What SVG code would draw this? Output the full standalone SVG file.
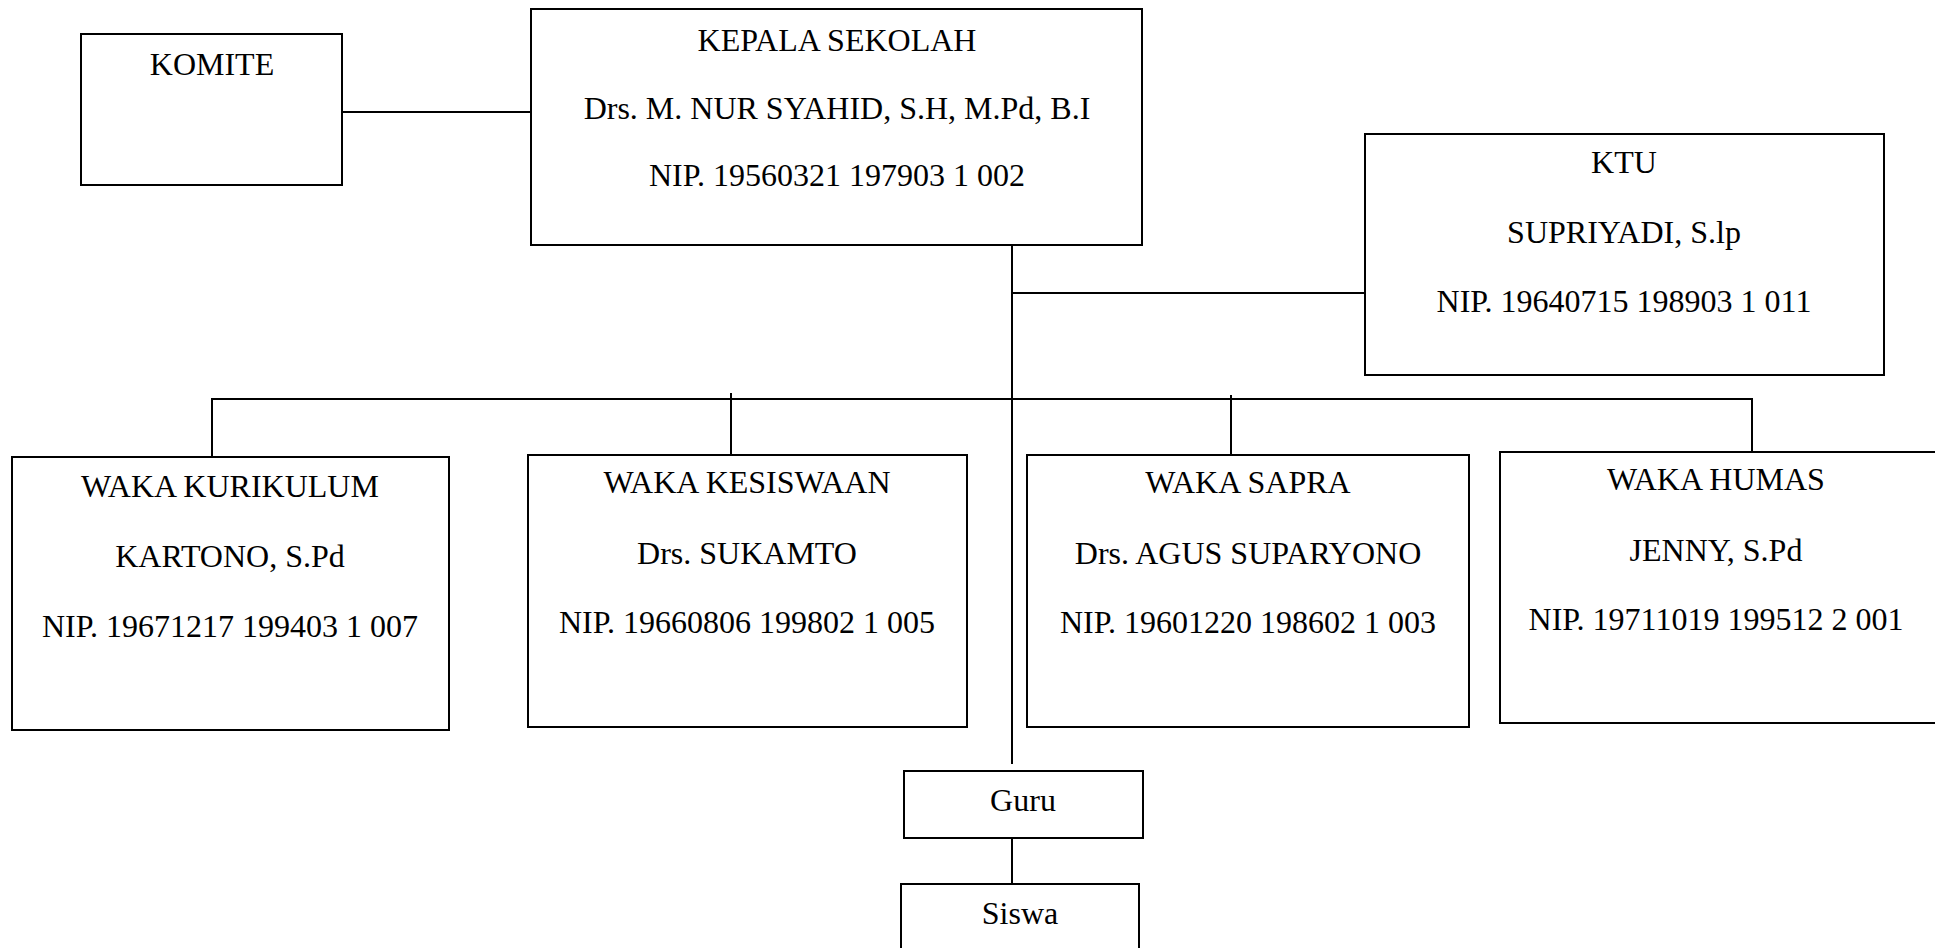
<svg xmlns="http://www.w3.org/2000/svg" width="1935" height="948" viewBox="0 0 1935 948">
<style>
  .box { fill: #ffffff; stroke: #000000; stroke-width: 2; }
  .conn line { stroke: #000000; stroke-width: 2; }
  text { font-family: "Liberation Serif", "Times New Roman", serif; font-size: 32px; fill: #000000; text-anchor: middle; }
</style>
<rect x="0" y="0" width="1935" height="948" fill="#ffffff"/>
<g id="connectors" class="conn">
  <line x1="342" y1="112" x2="531" y2="112"/>
  <line x1="1012" y1="245" x2="1012" y2="764"/>
  <line x1="1012" y1="293" x2="1365" y2="293"/>
  <line x1="212" y1="399" x2="1752" y2="399"/>
  <line x1="212" y1="398" x2="212" y2="457"/>
  <line x1="731" y1="393" x2="731" y2="455"/>
  <line x1="1231" y1="395" x2="1231" y2="455"/>
  <line x1="1752" y1="398" x2="1752" y2="452"/>
  <line x1="1012" y1="838" x2="1012" y2="884"/>
</g>
<g id="komite">
  <rect class="box" x="81" y="34" width="261" height="151"/>
  <text x="212" y="75">KOMITE</text>
</g>
<g id="kepala-sekolah">
  <rect class="box" x="531" y="9" width="611" height="236"/>
  <text x="837" y="51">KEPALA SEKOLAH</text>
  <text x="837" y="119">Drs. M. NUR SYAHID, S.H, M.Pd, B.I</text>
  <text x="837" y="186">NIP. 19560321 197903 1 002</text>
</g>
<g id="ktu">
  <rect class="box" x="1365" y="134" width="519" height="241"/>
  <text x="1624" y="173">KTU</text>
  <text x="1624" y="243">SUPRIYADI, S.lp</text>
  <text x="1624" y="312">NIP. 19640715 198903 1 011</text>
</g>
<g id="waka-kurikulum">
  <rect class="box" x="12" y="457" width="437" height="273"/>
  <text x="230" y="497">WAKA KURIKULUM</text>
  <text x="230" y="567">KARTONO, S.Pd</text>
  <text x="230" y="637">NIP. 19671217 199403 1 007</text>
</g>
<g id="waka-kesiswaan">
  <rect class="box" x="528" y="455" width="439" height="272"/>
  <text x="747" y="493">WAKA KESISWAAN</text>
  <text x="747" y="564">Drs. SUKAMTO</text>
  <text x="747" y="633">NIP. 19660806 199802 1 005</text>
</g>
<g id="waka-sapra">
  <rect class="box" x="1027" y="455" width="442" height="272"/>
  <text x="1248" y="493">WAKA SAPRA</text>
  <text x="1248" y="564">Drs. AGUS SUPARYONO</text>
  <text x="1248" y="633">NIP. 19601220 198602 1 003</text>
</g>
<g id="waka-humas">
  <rect class="box" x="1500" y="452" width="440" height="271"/>
  <text x="1716" y="490">WAKA HUMAS</text>
  <text x="1716" y="561">JENNY, S.Pd</text>
  <text x="1716" y="630">NIP. 19711019 199512 2 001</text>
</g>
<g id="guru">
  <rect class="box" x="904" y="771" width="239" height="67"/>
  <text x="1023" y="811">Guru</text>
</g>
<g id="siswa">
  <rect class="box" x="901" y="884" width="238" height="80"/>
  <text x="1020" y="924">Siswa</text>
</g>
</svg>
